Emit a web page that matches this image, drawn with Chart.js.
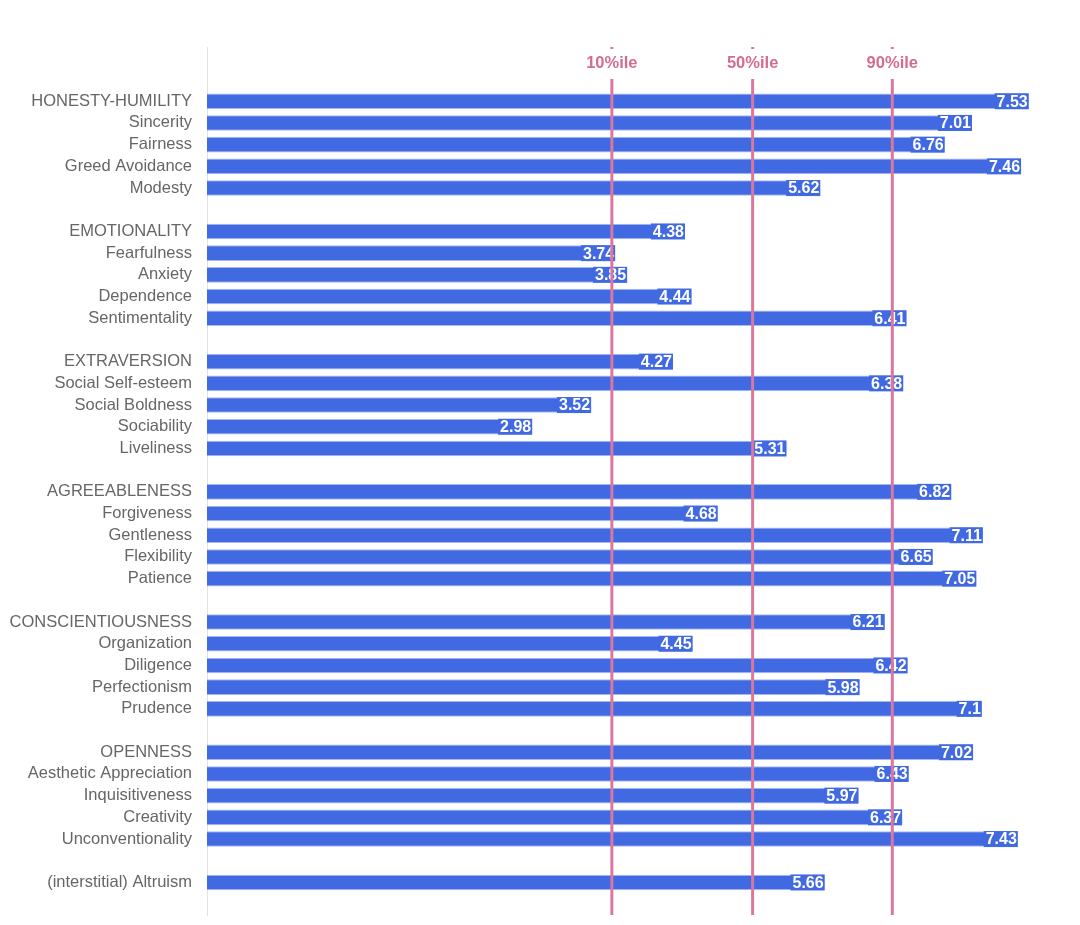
<!DOCTYPE html>
<html>
<head>
<meta charset="utf-8">
<script src="https://cdn.jsdelivr.net/npm/chart.js@4"></script>
<style>
  html, body { margin: 0; padding: 0; background: #fff; }
  #wrap { width: 1080px; height: 925px; }
</style>
</head>
<body>
<div id="wrap"><canvas id="myChart"></canvas></div>
<script>
const honestyLabels = ['HONESTY-HUMILITY', 'Sincerity', 'Fairness', 'Greed Avoidance', 'Modesty'];
const honestyValues = [7.53, 7.01, 6.76, 7.46, 5.62];
const emotionLabels = ['EMOTIONALITY', 'Fearfulness', 'Anxiety', 'Dependence', 'Sentimentality'];
const emotionValues = [4.38, 3.74, 3.85, 4.44, 6.41];
const extraLabels = ['EXTRAVERSION', 'Social Self-esteem', 'Social Boldness', 'Sociability', 'Liveliness'];
const extraValues = [4.27, 6.38, 3.52, 2.98, 5.31];
const agreeLabels = ['AGREEABLENESS', 'Forgiveness', 'Gentleness', 'Flexibility', 'Patience'];
const agreeValues = [6.82, 4.68, 7.11, 6.65, 7.05];
const conscLabels = ['CONSCIENTIOUSNESS', 'Organization', 'Diligence', 'Perfectionism', 'Prudence'];
const conscValues = [6.21, 4.45, 6.42, 5.98, 7.1];
const openLabels = ['OPENNESS', 'Aesthetic Appreciation', 'Inquisitiveness', 'Creativity', 'Unconventionality'];
const openValues = [7.02, 6.43, 5.97, 6.37, 7.43];
const altruismLabels = ['(interstitial) Altruism'];
const altruismValues = [5.66];

const percentileLabels = ['10%ile', '50%ile', '90%ile'];
const percentileValues = [3.71, 5.0, 6.28];

// blank rows between groups, two on top (room for percentile labels), one at the bottom
const groups = [
  [honestyLabels, honestyValues],
  [emotionLabels, emotionValues],
  [extraLabels, extraValues],
  [agreeLabels, agreeValues],
  [conscLabels, conscValues],
  [openLabels, openValues],
  [altruismLabels, altruismValues]
];
const labels = ['', ''];
const values = [null, null];
groups.forEach(([l, v], i) => {
  if (i > 0) { labels.push(''); values.push(null); }
  labels.push(...l);
  values.push(...v);
});
labels.push('');
values.push(null);

const barBlue = '#4169e1';
const pink = '#d9779f';

const valueLabels = {
  id: 'valueLabels',
  afterDatasetsDraw(chart) {
    const ctx = chart.ctx;
    const meta = chart.getDatasetMeta(0);
    ctx.save();
    ctx.font = 'bold 16px "Liberation Sans", Arial, sans-serif';
    ctx.textAlign = 'right';
    ctx.textBaseline = 'middle';
    meta.data.forEach((bar, i) => {
      const v = values[i];
      if (v === null) return;
      const txt = String(v);
      const w = ctx.measureText(txt).width;
      ctx.fillStyle = barBlue;
      ctx.fillRect(bar.x - w - 3, bar.y - 8, w + 3, 16);
      ctx.fillStyle = '#ffffff';
      ctx.fillText(txt, bar.x - 1, bar.y + 1);
    });
    ctx.restore();
  }
};

const percentileLines = {
  id: 'percentileLines',
  afterDraw(chart) {
    const ctx = chart.ctx;
    const area = chart.chartArea;
    const x = chart.scales.x;
    ctx.save();
    percentileValues.forEach((p, i) => {
      const px = x.getPixelForValue(p);
      ctx.strokeStyle = pink;
      ctx.lineWidth = 3;
      ctx.beginPath();
      ctx.moveTo(px, area.top);
      ctx.lineTo(px, area.bottom);
      ctx.stroke();
      ctx.fillStyle = '#ffffff';
      ctx.fillRect(px - 32, area.top + 2, 64, 30);
      ctx.fillStyle = '#d46c8e';
      ctx.font = 'bold 16.5px "Liberation Sans", Arial, sans-serif';
      ctx.textAlign = 'center';
      ctx.textBaseline = 'middle';
      ctx.fillText(percentileLabels[i], px, area.top + 16);
    });
    ctx.restore();
  }
};

const ctx = document.querySelector('#myChart').getContext('2d');

new Chart(ctx, {
  type: 'bar',
  data: {
    labels,
    datasets: [{
      data: values,
      backgroundColor: barBlue,
      borderColor: 'rgba(130,155,235,0.7)',
      borderWidth: 1,
      barPercentage: 0.9,
      categoryPercentage: 0.8
    }]
  },
  options: {
    indexAxis: 'y',
    responsive: true,
    maintainAspectRatio: false,
    animation: false,
    layout: {
      padding: { top: 47, bottom: 10, left: 0, right: 0 }
    },
    scales: {
      x: {
        display: false,
        min: 0,
        max: 8
      },
      y: {
        afterFit(scale) {
          scale.width = 207;
          scale.paddingTop = 0;
          scale.paddingBottom = 0;
        },
        grid: { display: false, drawTicks: false },
        border: { display: true, color: '#e2e2e2', width: 1 },
        ticks: {
          autoSkip: false,
          padding: 15,
          color: '#666666',
          font: { family: '"Liberation Sans", Arial, sans-serif', size: 16.5 }
        }
      }
    },
    plugins: {
      legend: { display: false },
      tooltip: { enabled: false }
    }
  },
  plugins: [valueLabels, percentileLines]
});
</script>
</body>
</html>
